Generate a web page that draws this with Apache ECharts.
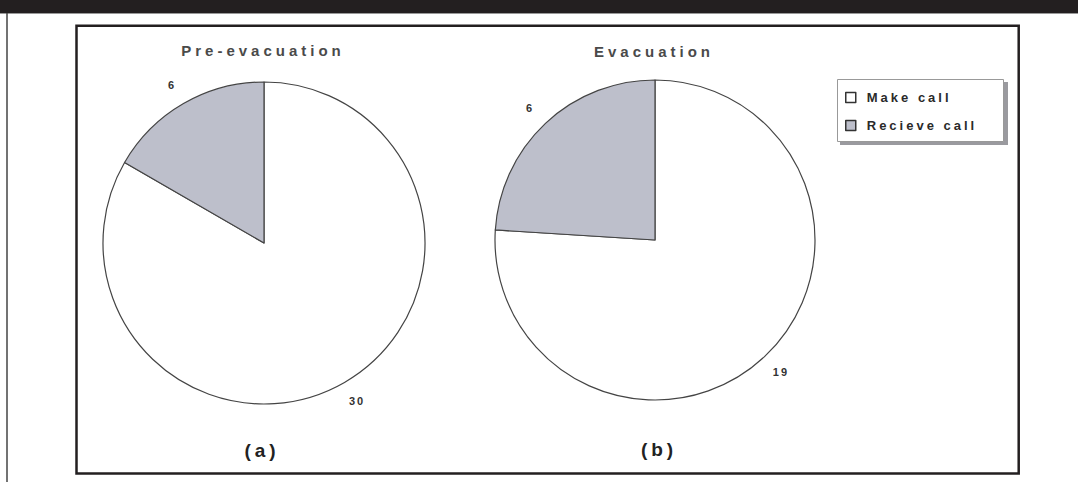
<!DOCTYPE html>
<html>
<head>
<meta charset="utf-8">
<title>Make call / Recieve call</title>
<script src="https://cdn.jsdelivr.net/npm/echarts@6/dist/echarts.min.js"></script>
<style>
  html, body { margin: 0; padding: 0; background: #fff; }
  #main { width: 1078px; height: 482px; }
  /* the scanned figure uses widely spaced lettering */
  #main text[style*="15px"] { letter-spacing: 4px; }
  #main text[style*="13px"] { letter-spacing: 3px; }
  #main text[style*="11px"] { letter-spacing: 2px; }
  #main text[style*="19px"] { letter-spacing: 4px; }
</style>
</head>
<body>
<div id="main"></div>
<script>
  // data
  var categories = ["Make call", "Recieve call"];
  var preEvacuation = [30, 6];
  var evacuation = [19, 6];
  var panelTitles = ["Pre-evacuation", "Evacuation"];
  var panelCaptions = ["(a)", "(b)"];

  var font = "Liberation Sans";

  var myChart = echarts.init(document.getElementById("main"), null, { renderer: "svg" });

  function pieSeries(name, values, center, radius) {
    return {
      type: "pie",
      name: name,
      center: center,
      radius: radius,
      startAngle: 90,
      clockwise: true,
      silent: true,
      animation: false,
      label: {
        show: true,
        position: "outside",
        formatter: "{c}",
        fontFamily: font,
        fontSize: 11,
        fontWeight: "bold",
        color: "#333"
      },
      labelLine: { show: false, length: 21, length2: 0 },
      // centre each value label on the end of its (hidden) label line
      labelLayout: function (p) {
        var w = p.labelRect.width;
        return { dx: p.align === "left" ? -5 - w / 2 : 5 + w / 2 };
      },
      itemStyle: { borderColor: "#444", borderWidth: 1.2 },
      emphasis: { disabled: true },
      data: categories.map(function (c, i) {
        return { name: c, value: values[i] };
      })
    };
  }

  var option = {
    backgroundColor: "#fff",
    animation: false,
    color: ["#ffffff", "#bdbfcb"],
    title: [
      { text: panelTitles[0], left: 263, top: 50 },
      { text: panelTitles[1], left: 654, top: 51 },
      { text: panelCaptions[0], left: 262, top: 450, big: true },
      { text: panelCaptions[1], left: 659, top: 449, big: true }
    ].map(function (t) {
      return {
        text: t.text,
        left: t.left,
        top: t.top,
        padding: 0,
        textAlign: "center",
        textVerticalAlign: "middle",
        textStyle: t.big
          ? { fontFamily: font, fontSize: 19, fontWeight: "bold", color: "#222" }
          : { fontFamily: font, fontSize: 15, fontWeight: "bold", color: "#4a4a4a" }
      };
    }),
    legend: {
      orient: "vertical",
      left: 845,
      top: 91,
      padding: 0,
      itemWidth: 10,
      itemHeight: 10,
      itemGap: 15,
      icon: "rect",
      selectedMode: false,
      itemStyle: { borderColor: "#333", borderWidth: 1.5 },
      textStyle: {
        fontFamily: font,
        fontSize: 13,
        fontWeight: "bold",
        color: "#2a2a2a",
        padding: [0, 0, 0, 6]
      },
      data: categories
    },
    graphic: [
      // black band across the top of the page
      { type: "rect", shape: { x: 0, y: 0, width: 1078, height: 13 }, style: { fill: "#231f20" } },
      { type: "line", shape: { x1: 0, y1: 13.5, x2: 1078, y2: 13.5 }, style: { stroke: "#999", lineWidth: 1 } },
      // page margin line on the left
      { type: "line", shape: { x1: 7, y1: 13, x2: 7, y2: 482 }, style: { stroke: "#444", lineWidth: 1.5 } },
      // figure frame
      {
        type: "rect",
        shape: { x: 76.5, y: 25.8, width: 942.2, height: 447.8 },
        style: { fill: "none", stroke: "#231f20", lineWidth: 2.5 }
      },
      // legend box with its drop shadow
      { type: "rect", z: -2, shape: { x: 840, y: 82, width: 168, height: 63 }, style: { fill: "#9a9a9f" } },
      {
        type: "rect",
        z: -1,
        shape: { x: 837.5, y: 79.5, width: 166, height: 62 },
        style: { fill: "#fff", stroke: "#999", lineWidth: 1 }
      }
    ],
    series: [
      pieSeries(panelTitles[0], preEvacuation, [264, 243], 161),
      pieSeries(panelTitles[1], evacuation, [655, 240], 160)
    ]
  };

  myChart.setOption(option);
</script>
</body>
</html>
